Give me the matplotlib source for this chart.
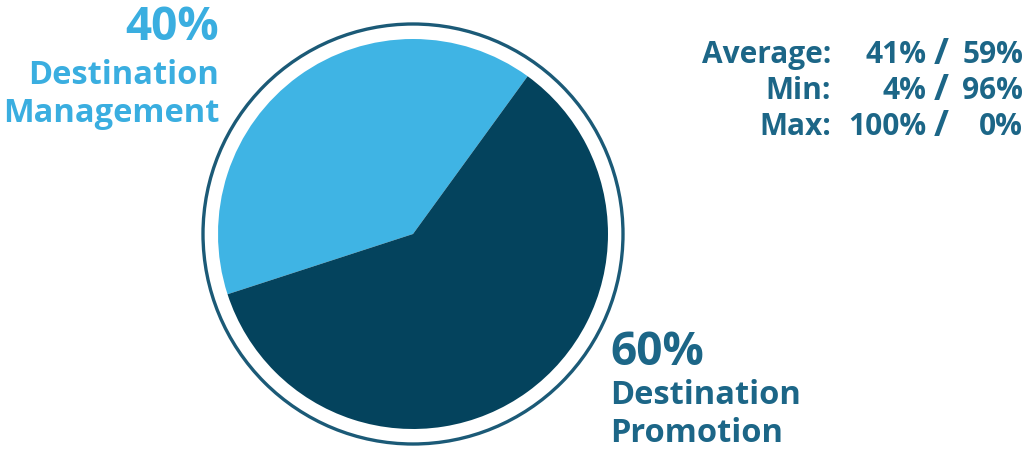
import matplotlib.pyplot as plt
from matplotlib.patches import Circle

# share of budget by activity
labels = ['Destination\nManagement', 'Destination\nPromotion']
shares = [40, 60]
colors = ['#3fb4e4', '#04435d']

# summary rows: label, management %, promotion %
stat_names = ['Average:', 'Min:', 'Max:']
stat_mgmt = [41, 4, 100]
stat_promo = [59, 96, 0]

W, H = 1032, 452
fig = plt.figure(figsize=(W / 100, H / 100), dpi=100)
ax = fig.add_axes([0, 0, 1, 1])

cx, cy = 413, H - 235
ax.pie(shares, colors=colors, startangle=54, counterclock=True,
       center=(cx, cy), radius=195, frame=True,
       wedgeprops=dict(linewidth=0))
ax.add_patch(Circle((cx, cy), 210, fill=False, ec='#1b5a77', lw=2.4))
ax.set_xlim(0, W)
ax.set_ylim(0, H)
ax.set_aspect('equal')
ax.axis('off')

font = 'Open Sans'
light_txt = '#3aaee0'
dark_txt = '#1c6687'

# left label
ax.text(219, H - 27, f'{shares[0]}%', ha='right', va='center', fontsize=33,
        fontweight='bold', color=light_txt, family=font)
ax.text(219, H - 95, labels[0], ha='right', va='center', fontsize=23.5,
        fontweight='bold', color=light_txt, family=font, linespacing=1.2)

# right label
ax.text(610, H - 353, f'{shares[1]}%', ha='left', va='center', fontsize=33,
        fontweight='bold', color=dark_txt, family=font)
ax.text(610, H - 415, labels[1], ha='left', va='center', fontsize=23.5,
        fontweight='bold', color=dark_txt, family=font, linespacing=1.2)

# summary table
row_y = [55, 91, 127]
for name, a, b, y in zip(stat_names, stat_mgmt, stat_promo, row_y):
    kw = dict(va='center', fontweight='bold', color=dark_txt, family=font)
    ax.text(831, H - y, name, ha='right', fontsize=21.5, **kw)
    ax.text(926, H - y, f'{a}%', ha='right', fontsize=21.5, **kw)
    ax.text(941, H - y, '/', ha='center', fontsize=26, **kw)
    ax.text(1023, H - y, f'{b}%', ha='right', fontsize=21.5, **kw)

fig.savefig('out.png', dpi=100, facecolor='white')
